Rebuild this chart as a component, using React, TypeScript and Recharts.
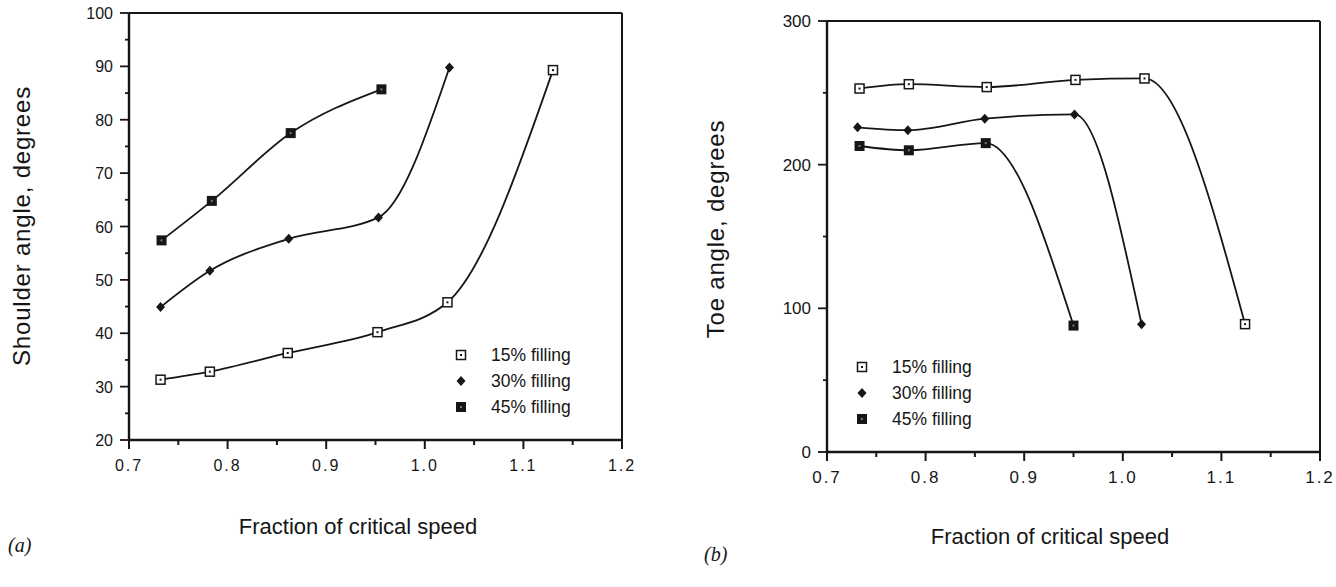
import React from 'react'
import { LineChart, Line, XAxis, YAxis, ReferenceLine, Legend } from 'recharts'

// Fraction of critical speed vs shoulder angle (panel a)
const shoulderSpeed15 = [0.732, 0.782, 0.861, 0.952, 1.023, 1.13]
const shoulder15 = [31.3, 32.8, 36.3, 40.2, 45.8, 89.3]
const shoulderSpeed30 = [0.732, 0.782, 0.862, 0.953, 1.025]
const shoulder30 = [44.9, 51.7, 57.7, 61.7, 89.8]
const shoulderSpeed45 = [0.733, 0.784, 0.864, 0.956]
const shoulder45 = [57.4, 64.8, 77.5, 85.7]

// Fraction of critical speed vs toe angle (panel b)
const toeSpeed15 = [0.733, 0.783, 0.862, 0.952, 1.022, 1.124]
const toe15 = [253, 256, 254, 259, 260, 89]
const toeSpeed30 = [0.731, 0.782, 0.86, 0.951, 1.019]
const toe30 = [226, 224, 232, 235, 89]
const toeSpeed45 = [0.733, 0.783, 0.861, 0.95]
const toe45 = [213, 210, 215, 88]

const speedTicks = [0.7, 0.75, 0.8, 0.85, 0.9, 0.95, 1.0, 1.05, 1.1, 1.15, 1.2]
const shoulderTicks = [20, 25, 30, 35, 40, 45, 50, 55, 60, 65, 70, 75, 80, 85, 90, 95, 100]
const toeTicks = [0, 50, 100, 150, 200, 250, 300]

const seriesNames = ['15% filling', '30% filling', '45% filling']

const INK = '#161616'
const FONT = '"Liberation Sans", Arial, Helvetica, sans-serif'

const zip = (xs: number[], ys: number[]) => xs.map((x, i) => ({ x, y: ys[i] }))

type Kind = 'open' | 'diamond' | 'filled'

function Marker({ cx, cy, kind }: { cx: number; cy: number; kind: Kind }) {
  if (kind === 'diamond') {
    return <path d={`M${cx},${cy - 5}L${cx + 4.5},${cy}L${cx},${cy + 5}L${cx - 4.5},${cy}Z`} fill={INK} />
  }
  if (kind === 'filled') {
    return (
      <g>
        <rect x={cx - 5} y={cy - 5} width={10} height={10} fill={INK} />
        <rect x={cx - 1} y={cy - 1} width={2} height={2} fill="#777" />
      </g>
    )
  }
  return (
    <g>
      <rect x={cx - 4.5} y={cy - 4.5} width={9} height={9} fill="#fff" stroke={INK} strokeWidth={1.5} />
      <rect x={cx - 1} y={cy - 1} width={2} height={2} fill={INK} />
    </g>
  )
}

const kinds: Kind[] = ['open', 'diamond', 'filled']

const isMajor = (v: number, step: number) => Math.abs(v / step - Math.round(v / step)) < 1e-6

function makeXTick(step: number, fontSize: number) {
  return (props: any) => {
    const { x, y, payload } = props
    const major = isMajor(payload.value, step)
    return (
      <g>
        <line x1={x} y1={y} x2={x} y2={y + (major ? 9 : 5)} stroke={INK} strokeWidth={2} />
        {major && (
          <text x={x} y={y + 31} textAnchor="middle" fontSize={fontSize} fontFamily={FONT} fill={INK} letterSpacing={2}>
            {payload.value.toFixed(1)}
          </text>
        )}
      </g>
    )
  }
}

function makeYTick(step: number, fontSize: number) {
  return (props: any) => {
    const { x, y, payload } = props
    const major = isMajor(payload.value, step)
    return (
      <g>
        <line x1={x} y1={y} x2={x - (major ? 9 : 4)} y2={y} stroke={INK} strokeWidth={1.8} />
        {major && (
          <text x={x - 16} y={y + 6} textAnchor="end" fontSize={fontSize} fontFamily={FONT} fill={INK}>
            {payload.value}
          </text>
        )}
      </g>
    )
  }
}

function LegendBox() {
  return (
    <div style={{ fontFamily: FONT, fontSize: 17.5, color: INK }}>
      {seriesNames.map((name, i) => (
        <div key={name} style={{ display: 'flex', alignItems: 'center', height: 26 }}>
          <svg width={14} height={14} style={{ marginRight: 23 }}>
            <Marker cx={7} cy={7} kind={kinds[i]} />
          </svg>
          <span>{name}</span>
        </div>
      ))}
    </div>
  )
}

interface PanelProps {
  left: number
  width: number
  height: number
  plot: { top: number; right: number; bottom: number; left: number }
  yDomain: [number, number]
  yTicks: number[]
  yStep: number
  series: { x: number; y: number }[][]
  legendPos: { left: number; top: number }
  fontSize: number
}

function Panel({ left, width, height, plot, yDomain, yTicks, yStep, series, legendPos, fontSize }: PanelProps) {
  return (
    <div style={{ position: 'absolute', left, top: 0 }}>
      <LineChart width={width} height={height} margin={{ top: plot.top, right: plot.right, bottom: 0, left: 0 }}>
        <XAxis
          dataKey="x"
          type="number"
          domain={[0.7, 1.2]}
          ticks={speedTicks}
          interval={0}
          height={plot.bottom}
          tickSize={0}
          tickMargin={0}
          tickLine={false}
          axisLine={{ stroke: INK, strokeWidth: 2.4 }}
          tick={makeXTick(0.1, fontSize)}
          allowDataOverflow
        />
        <YAxis
          type="number"
          domain={yDomain}
          ticks={yTicks}
          interval={0}
          width={plot.left}
          tickSize={0}
          tickMargin={0}
          tickLine={false}
          axisLine={{ stroke: INK, strokeWidth: 2.4 }}
          tick={makeYTick(yStep, fontSize)}
          allowDataOverflow
        />
        <ReferenceLine y={yDomain[1]} stroke={INK} strokeWidth={2} ifOverflow="visible" />
        <ReferenceLine x={1.2} stroke={INK} strokeWidth={2} ifOverflow="visible" />
        {series.map((data, i) => (
          <Line
            key={seriesNames[i]}
            name={seriesNames[i]}
            data={data}
            dataKey="y"
            type="monotone"
            stroke={INK}
            strokeWidth={1.8}
            dot={(p: any) => <Marker key={`${i}-${p.index}`} cx={p.cx} cy={p.cy} kind={kinds[i]} />}
            isAnimationActive={false}
          />
        ))}
        <Legend
          layout="vertical"
          align="center"
          verticalAlign="middle"
          content={() => <LegendBox />}
          wrapperStyle={{ left: legendPos.left, top: legendPos.top, width: 'auto' }}
        />
      </LineChart>
    </div>
  )
}

const title: React.CSSProperties = { position: 'absolute', fontFamily: FONT, color: INK, whiteSpace: 'nowrap' }

export default function App() {
  return (
    <div style={{ position: 'absolute', left: 0, top: 0, width: 1336, height: 587, background: '#fff', overflow: 'hidden' }}>
      <Panel
        left={0}
        width={650}
        height={480}
        plot={{ top: 13, right: 28, bottom: 40, left: 129 }}
        yDomain={[20, 100]}
        yTicks={shoulderTicks}
        yStep={10}
        series={[zip(shoulderSpeed15, shoulder15), zip(shoulderSpeed30, shoulder30), zip(shoulderSpeed45, shoulder45)]}
        legendPos={{ left: 454, top: 342 }}
        fontSize={16}
      />
      <Panel
        left={680}
        width={656}
        height={490}
        plot={{ top: 21, right: 16, bottom: 38, left: 147 }}
        yDomain={[0, 300]}
        yTicks={toeTicks}
        yStep={100}
        series={[zip(toeSpeed15, toe15), zip(toeSpeed30, toe30), zip(toeSpeed45, toe45)]}
        legendPos={{ left: 175, top: 354 }}
        fontSize={17}
      />

      <div style={{ ...title, left: 22, top: 226, fontSize: 24, letterSpacing: 0.8, transform: 'translate(-50%, -50%) rotate(-90deg)' }}>
        Shoulder angle, degrees
      </div>
      <div style={{ ...title, left: 716, top: 229, fontSize: 24, letterSpacing: 0.8, transform: 'translate(-50%, -50%) rotate(-90deg)' }}>
        Toe angle, degrees
      </div>
      <div style={{ ...title, left: 358, top: 527, fontSize: 22, transform: 'translate(-50%, -50%)' }}>
        Fraction of critical speed
      </div>
      <div style={{ ...title, left: 1050, top: 537, fontSize: 22, transform: 'translate(-50%, -50%)' }}>
        Fraction of critical speed
      </div>
      <div style={{ ...title, left: 8, top: 534, fontSize: 20, fontStyle: 'italic', fontFamily: '"Liberation Serif", "DejaVu Serif", serif' }}>
        (a)
      </div>
      <div style={{ ...title, left: 704, top: 543, fontSize: 20, fontStyle: 'italic', fontFamily: '"Liberation Serif", "DejaVu Serif", serif' }}>
        (b)
      </div>
    </div>
  )
}
